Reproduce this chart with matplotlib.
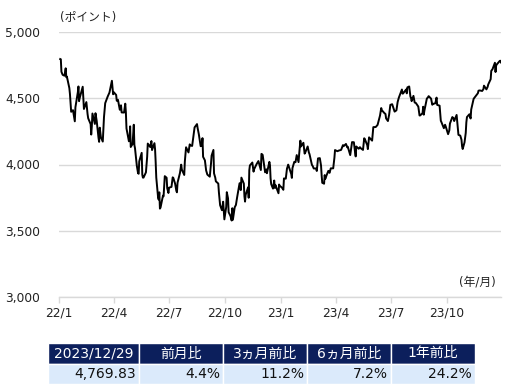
import pandas as pd
import matplotlib
matplotlib.use("Agg")
import matplotlib.pyplot as plt
import matplotlib.dates as mdates
from matplotlib.patches import Rectangle

# --------------------------

dates = [
    "2022-01-03", "2022-01-04", "2022-01-05", "2022-01-07", "2022-01-10", "2022-01-12", "2022-01-13", "2022-01-14",
    "2022-01-18", "2022-01-19", "2022-01-21", "2022-01-24", "2022-01-27", "2022-01-28", "2022-02-01", "2022-02-02",
    "2022-02-03", "2022-02-04", "2022-02-09", "2022-02-10", "2022-02-11", "2022-02-15", "2022-02-17", "2022-02-18",
    "2022-02-22", "2022-02-23", "2022-02-24", "2022-02-25", "2022-03-01", "2022-03-02", "2022-03-04", "2022-03-07",
    "2022-03-08", "2022-03-09", "2022-03-11", "2022-03-14", "2022-03-16", "2022-03-18", "2022-03-22", "2022-03-25",
    "2022-03-29", "2022-03-31", "2022-04-01", "2022-04-05", "2022-04-06", "2022-04-08", "2022-04-11", "2022-04-13",
    "2022-04-14", "2022-04-18", "2022-04-20", "2022-04-21", "2022-04-22", "2022-04-26", "2022-04-27", "2022-04-28",
    "2022-04-29", "2022-05-02", "2022-05-04", "2022-05-05", "2022-05-06", "2022-05-09", "2022-05-11", "2022-05-12",
    "2022-05-13", "2022-05-17", "2022-05-18", "2022-05-19", "2022-05-20", "2022-05-24", "2022-05-26", "2022-05-27",
    "2022-05-31", "2022-06-02", "2022-06-03", "2022-06-07", "2022-06-08", "2022-06-09", "2022-06-10", "2022-06-13",
    "2022-06-14", "2022-06-15", "2022-06-16", "2022-06-17", "2022-06-21", "2022-06-22", "2022-06-24", "2022-06-27",
    "2022-06-28", "2022-06-30", "2022-07-01", "2022-07-05", "2022-07-07", "2022-07-08", "2022-07-11", "2022-07-13",
    "2022-07-14", "2022-07-15", "2022-07-19", "2022-07-21", "2022-07-22", "2022-07-26", "2022-07-27", "2022-07-29",
    "2022-08-02", "2022-08-04", "2022-08-05", "2022-08-08", "2022-08-10", "2022-08-12", "2022-08-16", "2022-08-17",
    "2022-08-19", "2022-08-22", "2022-08-24", "2022-08-25", "2022-08-26", "2022-08-29", "2022-08-31", "2022-09-02",
    "2022-09-06", "2022-09-08", "2022-09-09", "2022-09-12", "2022-09-13", "2022-09-15", "2022-09-16", "2022-09-20",
    "2022-09-21", "2022-09-23", "2022-09-26", "2022-09-28", "2022-09-30", "2022-10-03", "2022-10-04", "2022-10-06",
    "2022-10-07", "2022-10-10", "2022-10-12", "2022-10-13", "2022-10-14", "2022-10-17", "2022-10-19", "2022-10-21",
    "2022-10-25", "2022-10-27", "2022-10-28", "2022-11-01", "2022-11-02", "2022-11-03", "2022-11-04", "2022-11-08",
    "2022-11-09", "2022-11-10", "2022-11-11", "2022-11-15", "2022-11-17", "2022-11-18", "2022-11-22", "2022-11-25",
    "2022-11-29", "2022-11-30", "2022-12-01", "2022-12-02", "2022-12-06", "2022-12-08", "2022-12-09", "2022-12-13",
    "2022-12-14", "2022-12-15", "2022-12-16", "2022-12-19", "2022-12-21", "2022-12-22", "2022-12-23", "2022-12-28",
    "2022-12-29", "2022-12-30",
    "2023-01-03", "2023-01-05", "2023-01-06", "2023-01-09", "2023-01-11", "2023-01-12", "2023-01-13", "2023-01-18",
    "2023-01-19", "2023-01-20", "2023-01-23", "2023-01-25", "2023-01-27", "2023-01-30", "2023-01-31", "2023-02-02",
    "2023-02-03", "2023-02-07", "2023-02-09", "2023-02-10", "2023-02-14", "2023-02-16", "2023-02-17", "2023-02-21",
    "2023-02-22", "2023-02-24", "2023-02-28", "2023-03-01", "2023-03-03", "2023-03-06", "2023-03-08", "2023-03-09",
    "2023-03-10", "2023-03-13", "2023-03-14", "2023-03-15", "2023-03-17", "2023-03-20", "2023-03-22", "2023-03-24",
    "2023-03-28", "2023-03-30", "2023-03-31", "2023-04-04", "2023-04-06", "2023-04-10", "2023-04-13", "2023-04-14",
    "2023-04-18", "2023-04-20", "2023-04-21", "2023-04-25", "2023-04-27", "2023-04-28", "2023-05-01", "2023-05-03",
    "2023-05-04", "2023-05-05", "2023-05-09", "2023-05-11", "2023-05-12", "2023-05-16", "2023-05-18", "2023-05-19",
    "2023-05-23", "2023-05-24", "2023-05-26", "2023-05-31", "2023-06-02", "2023-06-06", "2023-06-08", "2023-06-09",
    "2023-06-13", "2023-06-15", "2023-06-16", "2023-06-20", "2023-06-22", "2023-06-23", "2023-06-26", "2023-06-28",
    "2023-06-30", "2023-07-03", "2023-07-06", "2023-07-07", "2023-07-10", "2023-07-12", "2023-07-14", "2023-07-18",
    "2023-07-19", "2023-07-20", "2023-07-21", "2023-07-24", "2023-07-26", "2023-07-27", "2023-07-28", "2023-07-31",
    "2023-08-02", "2023-08-03", "2023-08-04", "2023-08-07", "2023-08-09", "2023-08-11", "2023-08-15", "2023-08-17",
    "2023-08-18", "2023-08-22", "2023-08-23", "2023-08-24", "2023-08-25", "2023-08-29", "2023-08-31", "2023-09-01",
    "2023-09-05", "2023-09-07", "2023-09-08", "2023-09-12", "2023-09-14", "2023-09-15", "2023-09-19", "2023-09-21",
    "2023-09-22", "2023-09-26", "2023-09-28", "2023-09-29", "2023-10-03", "2023-10-05", "2023-10-06", "2023-10-10",
    "2023-10-12", "2023-10-13", "2023-10-17", "2023-10-19", "2023-10-20", "2023-10-23", "2023-10-25", "2023-10-26",
    "2023-10-27", "2023-10-30", "2023-11-01", "2023-11-02", "2023-11-03", "2023-11-07", "2023-11-09", "2023-11-10",
    "2023-11-14", "2023-11-16", "2023-11-17", "2023-11-21", "2023-11-22", "2023-11-24", "2023-11-28", "2023-11-30",
    "2023-12-01", "2023-12-05", "2023-12-07", "2023-12-08", "2023-12-12", "2023-12-13", "2023-12-15", "2023-12-19",
    "2023-12-20", "2023-12-21", "2023-12-22", "2023-12-27", "2023-12-28", "2023-12-29",
]

values = [
    4796, 4794, 4700, 4677, 4670, 4726, 4659, 4663,
    4577, 4532, 4398, 4410, 4326, 4432, 4546, 4589,
    4478, 4501, 4587, 4504, 4419, 4471, 4380, 4349,
    4305, 4226, 4289, 4385, 4306, 4387, 4329, 4201,
    4171, 4278, 4204, 4173, 4358, 4463, 4512, 4543,
    4632, 4530, 4546, 4525, 4481, 4488, 4413, 4447,
    4393, 4392, 4459, 4394, 4272, 4175, 4183, 4288,
    4132, 4155, 4300, 4147, 4123, 3991, 3935, 3930,
    4024, 4088, 3923, 3901, 3901, 3941, 4058, 4158,
    4132, 4177, 4109, 4161, 4116, 4018, 3901, 3750,
    3735, 3790, 3667, 3675, 3765, 3760, 3912, 3900,
    3821, 3785, 3825, 3831, 3903, 3899, 3855, 3801,
    3790, 3863, 3937, 3999, 3962, 3921, 4024, 4130,
    4091, 4152, 4145, 4140, 4210, 4280, 4305, 4275,
    4228, 4138, 4141, 4199, 4058, 4031, 3955, 3924,
    3908, 4006, 4067, 4110, 3933, 3901, 3873, 3856,
    3790, 3693, 3655, 3719, 3586, 3679, 3791, 3745,
    3640, 3612, 3577, 3670, 3583, 3677, 3695, 3753,
    3859, 3807, 3901, 3856, 3760, 3720, 3771, 3828,
    3749, 3957, 3993, 4015, 3946, 3965, 4003, 4026,
    3958, 4080, 4077, 4072, 3941, 3963, 3934, 4020,
    3996, 3896, 3852, 3818, 3879, 3823, 3845, 3783,
    3849, 3840,
    3824, 3809, 3895, 3893, 3970, 3983, 3999, 3928,
    3899, 3973, 4020, 4017, 4071, 4018, 4077, 4180,
    4136, 4164, 4082, 4090, 4136, 4090, 4079, 3997,
    3991, 3970, 3970, 3951, 4046, 4048, 3992, 3918,
    3862, 3855, 3920, 3892, 3917, 3952, 3937, 3971,
    3971, 4051, 4109, 4100, 4105, 4110, 4146, 4138,
    4155, 4130, 4134, 4071, 4136, 4169, 4168, 4091,
    4061, 4136, 4119, 4131, 4124, 4110, 4198, 4192,
    4146, 4116, 4205, 4180, 4282, 4283, 4294, 4299,
    4369, 4426, 4410, 4389, 4381, 4348, 4328, 4376,
    4450, 4455, 4411, 4399, 4409, 4472, 4505, 4555,
    4566, 4535, 4536, 4555, 4566, 4537, 4582, 4589,
    4513, 4502, 4478, 4518, 4468, 4464, 4437, 4370,
    4370, 4388, 4436, 4376, 4406, 4497, 4508, 4516,
    4497, 4451, 4457, 4462, 4505, 4450, 4444, 4330,
    4320, 4274, 4300, 4288, 4229, 4258, 4309, 4358,
    4349, 4328, 4374, 4278, 4224, 4218, 4187, 4137,
    4117, 4167, 4238, 4318, 4358, 4379, 4347, 4415,
    4496, 4508, 4514, 4538, 4557, 4559, 4555, 4568,
    4595, 4567, 4586, 4604, 4644, 4707, 4719, 4768,
    4698, 4746, 4755, 4782, 4783, 4770,
]

y_ticks = [3000, 3500, 4000, 4500, 5000]

table_header = ["2023/12/29", "前月比", "3ヵ月前比", "6ヵ月前比", "1年前比"]
table_values = ["4,769.83", "4.4%", "11.2%", "7.2%", "24.2%"]

# --------------------------

fonts = ["DejaVu Sans", "Noto Sans CJK JP"]
plt.rcParams["font.family"] = fonts

x = pd.to_datetime(dates)

fig = plt.figure(figsize=(5.29, 3.85), dpi=100)

ax = fig.add_axes([59 / 529, 1 - 297 / 385, 442 / 529, 265 / 385])

ax.plot(x, values, color="black", linewidth=1.4, solid_joinstyle="round")

ax.set_ylim(3000, 5000)
ax.set_xlim(pd.Timestamp("2022-01-01"), x[-1])

ax.set_yticks(y_ticks)
ax.set_yticklabels([f"{v:,}" for v in y_ticks])
ax.yaxis.grid(True, color="#d9d9d9", linewidth=1.0)
ax.set_axisbelow(True)

ax.xaxis.set_major_locator(mdates.MonthLocator(bymonth=[1, 4, 7, 10]))
ax.xaxis.set_major_formatter(
    plt.FuncFormatter(lambda v, p: f"{mdates.num2date(v).year % 100}/{mdates.num2date(v).month}")
)

for s in ["top", "right", "left"]:
    ax.spines[s].set_visible(False)
ax.spines["bottom"].set_color("#d9d9d9")
ax.spines["bottom"].set_linewidth(1.0)

ax.tick_params(axis="y", length=0, pad=13.5, labelsize=8.8, labelcolor="#222222")
ax.tick_params(axis="x", length=4, width=1.0, color="#d9d9d9", pad=3, labelsize=8.8, labelcolor="#222222")

fig.text(60 / 529, 1 - 17 / 385, "(ポイント)", fontsize=8.5, color="#222222", va="center", ha="left")
fig.text(496 / 529, 1 - 282 / 385, "(年/月)", fontsize=8.5, color="#222222", va="center", ha="right")

# table under the chart
tab = fig.add_axes([48 / 529, 1 - 384 / 385, 427 / 529, 41 / 385])
tab.set_xlim(0, 427)
tab.set_ylim(0, 41)
tab.axis("off")

col_edges = [0, 91, 175, 259, 343, 427]
for i in range(len(table_header)):
    x0 = col_edges[i]
    w = col_edges[i + 1] - col_edges[i]
    tab.add_patch(Rectangle((x0, 20.5), w, 20.5, facecolor="#0c1f5c", edgecolor="white", linewidth=1.0))
    tab.add_patch(Rectangle((x0, 0), w, 20.5, facecolor="#dbeafb", edgecolor="white", linewidth=1.0))
    tab.text(x0 + w / 2, 30.5, table_header[i], color="white", fontsize=10, ha="center", va="center")
    tab.text(x0 + w - 3, 10.3, table_values[i], color="#111111", fontsize=10, ha="right", va="center")

plt.savefig("out.png", dpi=100)
plt.close()
